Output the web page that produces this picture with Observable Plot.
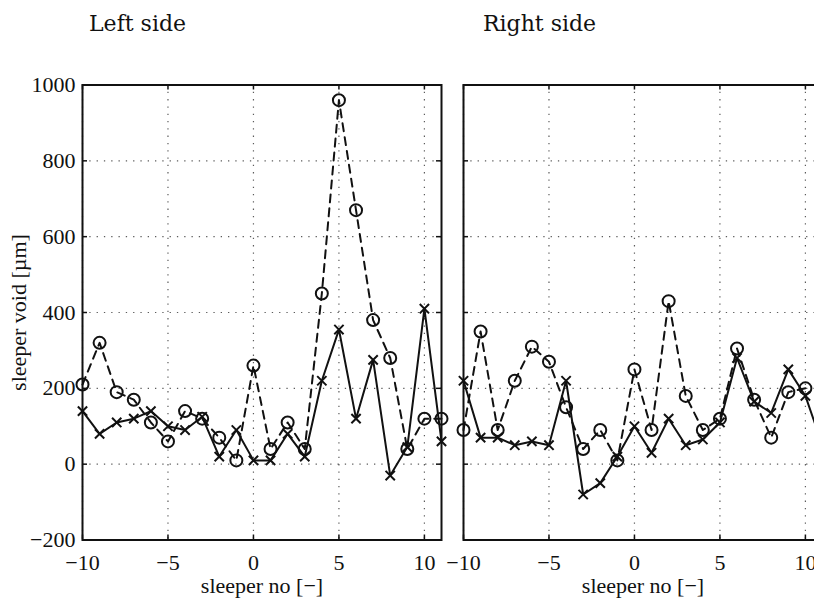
<!DOCTYPE html>
<html><head><meta charset="utf-8">
<script src="https://cdn.jsdelivr.net/npm/d3@7"></script>
<script src="https://cdn.jsdelivr.net/npm/@observablehq/plot@0.6"></script>
<style>
html,body{margin:0;padding:0;background:#fff;overflow:hidden}
#fig{position:relative;width:814px;height:599px;overflow:hidden;background:#fff}
.title{position:absolute;font-family:"DejaVu Serif";font-size:22px;color:#111;top:11px;white-space:nowrap;z-index:5}
.panel{position:absolute;top:0}
#fig svg{max-width:none !important}
</style></head><body>
<div id="fig">
<div class="panel" id="left" style="left:0;width:450px"></div>
<div class="panel" id="right" style="left:420px;width:410px"></div>
<div class="title" id="t0" style="left:89px"></div>
<div class="title" id="t1" style="left:483px"></div>
</div>
<script>
const sleeperNo     = [-10, -9, -8, -7, -6, -5, -4, -3, -2, -1, 0, 1, 2, 3, 4, 5, 6, 7, 8, 9, 10, 11];
const leftCircles   = [210, 320, 190, 170, 110, 60, 140, 120, 70, 10, 260, 40, 110, 40, 450, 960, 670, 380, 280, 40, 120, 120];
const leftCrosses   = [140, 80, 110, 120, 140, 100, 90, 125, 20, 90, 10, 10, 80, 20, 220, 355, 120, 275, -30, 45, 410, 60];
const rightCircles  = [90, 350, 90, 220, 310, 270, 150, 40, 90, 10, 250, 90, 430, 180, 90, 120, 305, 170, 70, 190, 200, null];
const rightCrosses  = [220, 70, 70, 50, 60, 50, 220, -80, -50, 20, 100, 30, 120, 50, 65, 110, 280, 165, 135, 250, 180, 50];
const xTicks = [-10, -5, 0, 5, 10];
const yTicks = [-200, 0, 200, 400, 600, 800, 1000];
const titles = ["Left side", "Right side"];
const xLabel = "sleeper no [−]";
const yLabel = "sleeper void [µm]";

document.getElementById("t0").textContent = titles[0];
document.getElementById("t1").textContent = titles[1];

const ink = "#111";
const fmt = d => String(d).replace("-", "−");
function panel({circles, crosses, width, marginLeft, marginRight, showY, background}) {
  const H = 599, mt = 84.5, mb = 59.5;
  const ih = H - mt - mb;
  const iw = width - marginLeft - marginRight;
  const tk = 5;
  const circleData = sleeperNo.map((x, i) => ({x, y: circles[i]}));
  const crossData = sleeperNo.map((x, i) => ({x, y: crosses[i]}));
  const grid = {stroke: "#333", strokeOpacity: 0.8, strokeWidth: 1.2, strokeDasharray: "1.3,6"};
  const marks = [
    Plot.gridX(xTicks, grid),
    Plot.gridY(yTicks, grid),
    Plot.tickX(xTicks, {x: d => d, insetTop: ih - tk, stroke: ink, strokeWidth: 1.5}),
    Plot.tickX(xTicks, {x: d => d, insetBottom: ih - tk, stroke: ink, strokeWidth: 1.5}),
    Plot.tickY(yTicks, {y: d => d, insetRight: iw - tk, stroke: ink, strokeWidth: 1.5}),
    Plot.tickY(yTicks, {y: d => d, insetLeft: iw - tk, stroke: ink, strokeWidth: 1.5}),
    Plot.line(circleData, {x: "x", y: "y", stroke: ink, strokeWidth: 2, strokeDasharray: "8,6"}),
    Plot.line(crossData, {x: "x", y: "y", stroke: ink, strokeWidth: 2}),
    Plot.dot(circleData, {x: "x", y: "y", r: 6, stroke: ink, strokeWidth: 2, fill: "none"}),
    Plot.dot(crossData, {x: "x", y: "y", symbol: "times", r: 4.3, stroke: ink, strokeWidth: 2}),
    Plot.frame({stroke: ink, strokeWidth: 2}),
    Plot.axisX(xTicks, {anchor: "bottom", tickSize: 0, tickPadding: 14, fontSize: 22, tickFormat: fmt,
      label: xLabel, labelAnchor: "center", labelOffset: 53, labelArrow: "none"})
  ];
  if (showY) marks.push(Plot.axisY(yTicks, {anchor: "left", tickSize: 0, tickPadding: 7, fontSize: 22, tickFormat: fmt,
      label: yLabel, labelAnchor: "center", labelOffset: 72, labelArrow: "none"}));
  return Plot.plot({
    width, height: H, marginTop: mt, marginBottom: mb, marginLeft, marginRight,
    style: {fontFamily: "Liberation Serif", fontSize: "22px", color: ink, background, overflow: "visible"},
    x: {domain: [-10, 11]},
    y: {domain: [-200, 1000], axis: showY ? undefined : null},
    marks
  });
}

document.getElementById("left").append(panel({circles: leftCircles, crosses: leftCrosses,
  width: 450, marginLeft: 82, marginRight: 9, showY: true, background: "white"}));
document.getElementById("right").append(panel({circles: rightCircles, crosses: rightCrosses,
  width: 410, marginLeft: 43, marginRight: 8, showY: false, background: "transparent"}));
</script>
</body></html>
